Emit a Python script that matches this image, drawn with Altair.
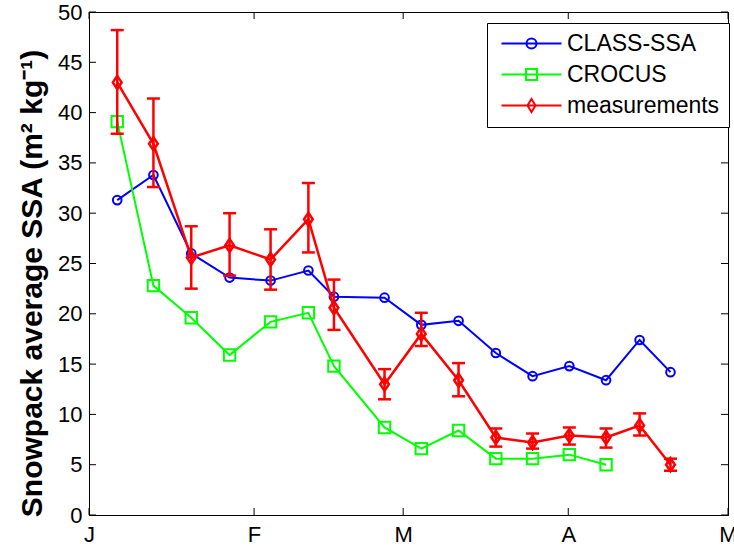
import altair as alt
import pandas as pd

# ---- data ----
days = [5.3, 12.1, 19.2, 26.4, 34.1, 41.2, 46.0, 55.5, 62.4, 69.4, 76.4, 83.3, 90.2, 97.1, 103.4, 109.2]
class_ssa = [31.3, 33.8, 26.0, 23.6, 23.3, 24.3, 21.7, 21.6, 18.9, 19.3, 16.1, 13.8, 14.8, 13.4, 17.4, 14.2]
crocus = [39.1, 22.8, 19.6, 15.9, 19.2, 20.1, 14.8, 8.7, 6.6, 8.4, 5.6, 5.6, 6.0, 5.0]
meas = [43.0, 36.9, 25.6, 26.8, 25.4, 29.4, 20.6, 13.0, 18.0, 13.4, 7.7, 7.2, 7.9, 7.7, 8.9, 5.0]
meas_lo = [37.9, 32.6, 22.5, 23.8, 22.4, 26.1, 18.4, 11.5, 16.8, 11.8, 6.8, 6.6, 7.0, 6.7, 7.9, 4.4]
meas_hi = [48.2, 41.4, 28.7, 30.0, 28.4, 33.0, 23.4, 14.5, 20.1, 15.1, 8.6, 8.1, 8.7, 8.6, 10.1, 5.6]

series_names = ["CLASS-SSA", "CROCUS", "measurements"]
series_colors = ["#0000FF", "#00FF00", "#FF0000"]

month_ticks = [0, 31, 59, 90, 120]
month_labels = ["J", "F", "M", "A", "M"]
y_ticks = [0, 5, 10, 15, 20, 25, 30, 35, 40, 45, 50]

# ---- tables ----
blue_df = pd.DataFrame({"day": days, "value": class_ssa})
green_df = pd.DataFrame({"day": days[:len(crocus)], "value": crocus})
red_df = pd.DataFrame({"day": days, "value": meas, "lo": meas_lo, "hi": meas_hi})
xt_df = pd.DataFrame({"t": month_ticks})
yt_df = pd.DataFrame({"t": y_ticks})
leg_df = pd.DataFrame({"series": series_names})

W, H = 639, 503
FONT = "Liberation Sans"

label_expr = " : ".join(
    f"datum.value == {v} ? '{l}'" for v, l in zip(month_ticks[:-1], month_labels[:-1])
) + f" : '{month_labels[-1]}'"

xscale = alt.Scale(domain=[0, 120], nice=False, zero=False)
yscale = alt.Scale(domain=[0, 50], nice=False)

x_enc = alt.X("day:Q", scale=xscale, axis=alt.Axis(
    values=month_ticks, labelExpr=label_expr, ticks=False, grid=False,
    labelFontSize=22, labelFont=FONT, labelColor="black", labelPadding=9,
    labelFlush=False, labelOverlap=False, domainColor="black", title=None))
y_enc = alt.Y("value:Q", scale=yscale, axis=alt.Axis(
    values=y_ticks, ticks=False, grid=False, labelFontSize=22, labelFont=FONT,
    labelColor="black", labelPadding=7, domainColor="black",
    title="Snowpack average SSA (m² kg⁻¹)", titleFont=FONT, titleFontSize=30,
    titleFontWeight="bold", titleColor="black", titleAngle=270,
    titleX=-57, titleY=271, titleAlign="center", titleBaseline="middle"))

base_x = alt.X("day:Q", scale=xscale)
base_y = alt.Y("value:Q", scale=yscale)

# blue
blue_line = alt.Chart(blue_df).mark_line(color="#0000FF", strokeWidth=2).encode(x=x_enc, y=y_enc)
blue_pts = alt.Chart(blue_df).mark_point(shape="circle", size=75, filled=False, strokeWidth=2,
                                         color="#0000FF", opacity=1).encode(x=base_x, y=base_y)
# green
green_line = alt.Chart(green_df).mark_line(color="#00FF00", strokeWidth=2).encode(x=base_x, y=base_y)
green_pts = alt.Chart(green_df).mark_point(shape="square", size=130, filled=False, strokeWidth=2,
                                           color="#00FF00", opacity=1).encode(x=base_x, y=base_y)
# red
diamond = "M0,-1.2L0.8,0L0,1.2L-0.8,0Z"
red_line = alt.Chart(red_df).mark_line(color="#FF0000", strokeWidth=2.5).encode(x=base_x, y=base_y)
red_err = alt.Chart(red_df).mark_rule(color="#FF0000", strokeWidth=2.5).encode(
    x=base_x, y=alt.Y("lo:Q", scale=yscale), y2="hi:Q")
red_cap_lo = alt.Chart(red_df).mark_tick(color="#FF0000", thickness=2.5, size=13, orient="horizontal",
                                         opacity=1).encode(x=base_x, y=alt.Y("lo:Q", scale=yscale))
red_cap_hi = alt.Chart(red_df).mark_tick(color="#FF0000", thickness=2.5, size=13, orient="horizontal",
                                         opacity=1).encode(x=base_x, y=alt.Y("hi:Q", scale=yscale))
red_pts = alt.Chart(red_df).mark_point(shape=diamond, size=120, filled=False, strokeWidth=2.5,
                                       color="#FF0000", opacity=1).encode(x=base_x, y=base_y)

# inward ticks (MATLAB style)
TL = 7
bot_ticks = alt.Chart(xt_df).mark_rule(color="black", strokeWidth=1).encode(
    x=alt.X("t:Q", scale=xscale), y=alt.value(H), y2=alt.value(H - TL))
top_ticks = alt.Chart(xt_df).mark_rule(color="black", strokeWidth=1).encode(
    x=alt.X("t:Q", scale=xscale), y=alt.value(0), y2=alt.value(TL))
left_ticks = alt.Chart(yt_df).mark_rule(color="black", strokeWidth=1).encode(
    y=alt.Y("t:Q", scale=yscale), x=alt.value(0), x2=alt.value(TL))
right_ticks = alt.Chart(yt_df).mark_rule(color="black", strokeWidth=1).encode(
    y=alt.Y("t:Q", scale=yscale), x=alt.value(W - TL), x2=alt.value(W))

# legend (line + marker symbols)
leg_paths = [
    "M-6,0H6M-1,0A1,1,0,1,0,1,0A1,1,0,1,0,-1,0",
    "M-6,0H6M-1.1,-1.1H1.1V1.1H-1.1Z",
    "M-6,0H6M0,-1.3L0.8,0L0,1.3L-0.8,0Z",
]
leg_cfg = alt.Legend(title=None, orient="none", legendX=398, legendY=11,
                     labelFont=FONT, labelFontSize=23, labelColor="black",
                     symbolSize=100, symbolStrokeWidth=2, symbolFillColor="transparent",
                     symbolOffset=24, labelOffset=24, padding=9, rowPadding=7,
                     strokeColor="black", fillColor="white", cornerRadius=0)
legend_layer = alt.Chart(leg_df).mark_point(filled=False, opacity=1, strokeWidth=2).encode(
    color=alt.Color("series:N", scale=alt.Scale(domain=series_names, range=series_colors), legend=leg_cfg),
    shape=alt.Shape("series:N", scale=alt.Scale(domain=series_names, range=leg_paths), legend=leg_cfg),
).transform_filter("false")

chart = alt.layer(
    blue_line, bot_ticks, top_ticks, left_ticks, right_ticks,
    blue_pts, green_line, green_pts,
    red_line, red_err, red_cap_lo, red_cap_hi, red_pts,
    legend_layer,
).properties(
    width=W, height=H,
    autosize=alt.AutoSizeParams(type="none"),
    padding={"left": 89, "top": 12, "right": 6, "bottom": 31},
    background="white",
).configure_view(stroke="black", strokeWidth=1)

chart.save("out.html", embed_options={"renderer": "svg", "actions": False})
